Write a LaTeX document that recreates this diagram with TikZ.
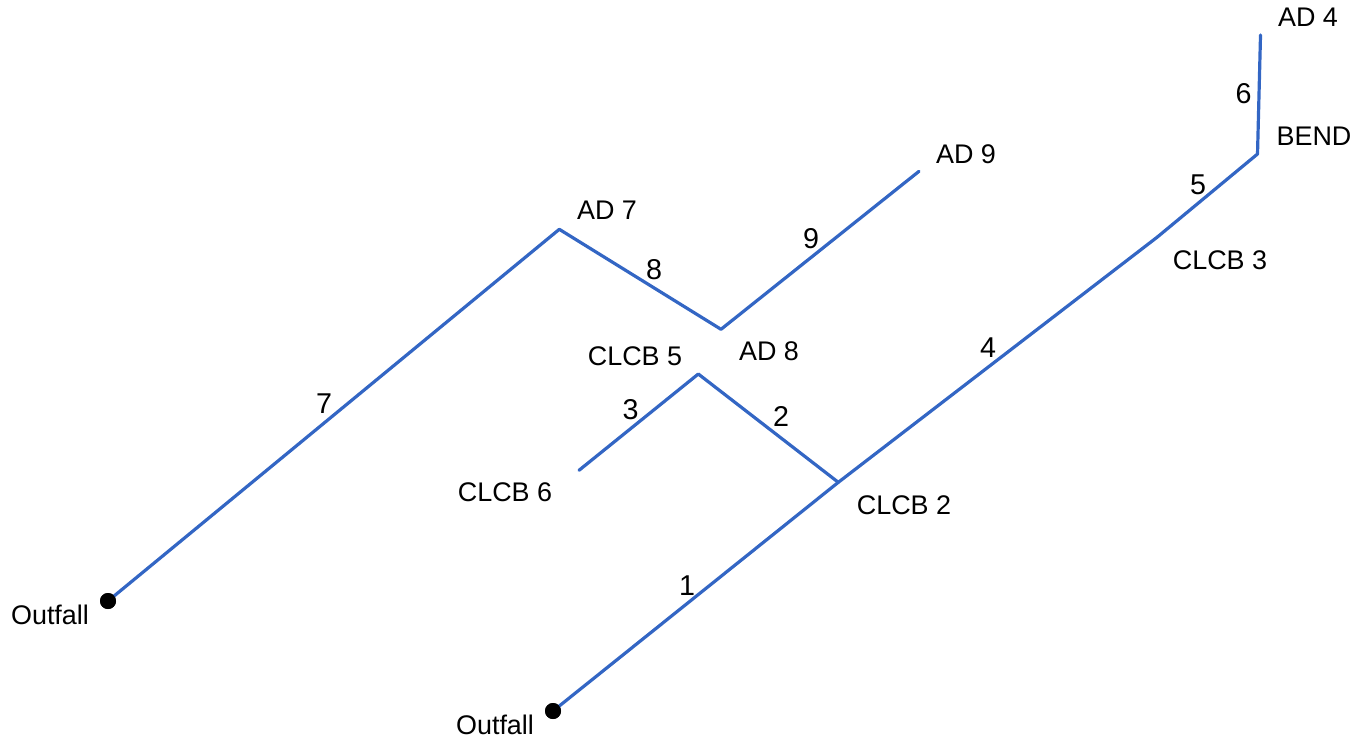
\documentclass[tikz,border=0pt]{standalone}
\usepackage{fontspec}
\setmainfont{Liberation Sans}
\definecolor{pipe}{HTML}{3366C4}
\tikzset{
  pipeline/.style={draw=pipe,line width=2.4pt,line cap=round,line join=round},
  lbl/.style={inner sep=0pt,font=\fontsize{20.2}{22}\selectfont,text=black},
  num/.style={inner sep=0pt,font=\fontsize{21.5}{23}\selectfont,text=black},
  dot/.style={circle,fill=black,draw=none,minimum size=12pt,inner sep=0pt}
}
\begin{document}
\begin{tikzpicture}[x=0.75pt,y=-0.75pt]
\useasboundingbox (0,0) rectangle (1358,744);
\node[dot] (o1) at (108,601) {};
\node[dot] (o2) at (553,711) {};
\coordinate (ad7) at (559.3,229.3);
\coordinate (ad8) at (721,329.3);
\coordinate (ad9) at (919,171.3);
\coordinate (clcb5) at (698.3,374);
\coordinate (clcb6) at (579,470.3);
\coordinate (clcb2) at (838.3,482.3);
\coordinate (clcb3) at (1157,237.3);
\coordinate (bend) at (1257.5,154);
\coordinate (ad4) at (1260.5,35);
\draw[pipeline] (o1.center) -- (ad7) -- (ad8) -- (ad9);
\draw[pipeline] (clcb6) -- (clcb5) -- (clcb2);
\draw[pipeline] (o2.center) -- (clcb2) -- (clcb3) -- (bend) -- (ad4);
\node[dot] at (108,601) {};
\node[dot] at (553,711) {};
\node[lbl] (t1) at (50,615.3) {Outfall};
\node[lbl] (t2) at (495,725.3) {Outfall};
\node[lbl] (t3) at (505,492.3) {CLCB 6};
\node[lbl] (t4) at (904,505.3) {CLCB 2};
\node[lbl] (t5) at (635,356.3) {CLCB 5};
\node[lbl] (t6) at (769,351.3) {AD 8};
\node[lbl] (t7) at (607,210.3) {AD 7};
\node[lbl] (t8) at (966,154.3) {AD 9};
\node[lbl] (t9) at (1220,260.3) {CLCB 3};
\node[lbl] (t10) at (1314,136.3) {BEND};
\node[lbl] (t11) at (1308,17.3) {AD 4};
\node[num] (n1) at (687,586) {1};
\node[num] (n2) at (781,416) {2};
\node[num] (n3) at (630.5,410) {3};
\node[num] (n4) at (988,348) {4};
\node[num] (n5) at (1198,185) {5};
\node[num] (n6) at (1243.5,94) {6};
\node[num] (n7) at (324,404) {7};
\node[num] (n8) at (654,270) {8};
\node[num] (n9) at (811,239) {9};
\end{tikzpicture}
\end{document}
